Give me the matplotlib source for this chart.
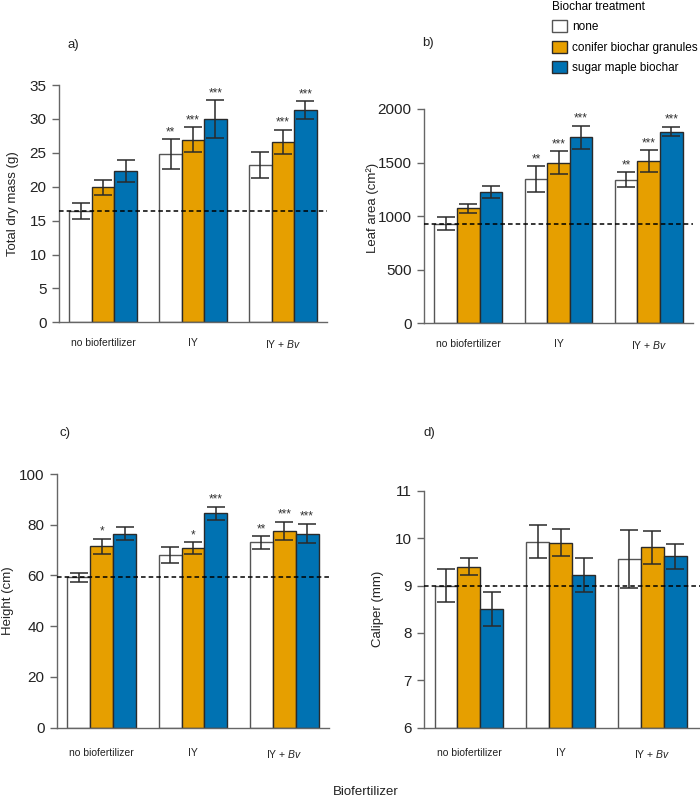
import matplotlib

matplotlib.use("Agg")
import matplotlib.pyplot as plt
import numpy as np
from matplotlib.patches import Patch

plt.rcParams["font.family"] = ["Liberation Sans", "DejaVu Sans"]
plt.rcParams["mathtext.fontset"] = "custom"
plt.rcParams["mathtext.rm"] = "Liberation Sans"
plt.rcParams["mathtext.it"] = "Liberation Sans:italic"

# ---------------------------------------------------------------------------
# Data (means and error half-widths)
# ---------------------------------------------------------------------------
GROUPS = ["no biofertilizer", "IY", "IY + $\\mathit{Bv}$"]
TREATMENTS = ["none", "conifer biochar granules", "sugar maple biochar"]

# a) total dry mass (g)
mass_none = [16.4, 24.8, 23.2]
mass_conifer = [19.9, 26.9, 26.6]
mass_maple = [22.3, 30.0, 31.3]
mass_err_none = [1.2, 2.2, 1.85]
mass_err_conifer = [1.15, 1.85, 1.75]
mass_err_maple = [1.65, 2.75, 1.3]
mass_stars = [["", "**", ""], ["", "***", "***"], ["", "***", "***"]]

# b) leaf area (cm2)
leaf_none = [930, 1345, 1340]
leaf_conifer = [1075, 1500, 1515]
leaf_maple = [1225, 1735, 1790]
leaf_err_none = [60, 120, 68]
leaf_err_conifer = [43, 105, 100]
leaf_err_maple = [55, 108, 45]
leaf_stars = [["", "**", "**"], ["", "***", "***"], ["", "***", "***"]]

# c) height (cm)
height_none = [59.2, 68.0, 73.0]
height_conifer = [71.5, 70.8, 77.5]
height_maple = [76.5, 84.5, 76.5]
height_err_none = [1.8, 3.2, 2.4]
height_err_conifer = [3.0, 2.2, 3.7]
height_err_maple = [2.5, 2.5, 3.9]
height_stars = [["", "", "**"], ["*", "*", "***"], ["", "***", "***"]]

# d) caliper (mm)
cal_none = [9.0, 9.93, 9.56]
cal_conifer = [9.4, 9.91, 9.81]
cal_maple = [8.5, 9.22, 9.62]
cal_err_none = [0.35, 0.35, 0.62]
cal_err_conifer = [0.18, 0.29, 0.35]
cal_err_maple = [0.36, 0.36, 0.27]
cal_stars = [["", "", ""], ["", "", ""], ["", "", ""]]

COLORS = ["#FFFFFF", "#E69F00", "#0072B2"]
EDGES = ["#555555", "#2a2a2a", "#2a2a2a"]
AXIS_GREY = "#666666"

W, H = 700, 797
BAR_W = 0.25


def px_axes(fig, left, right, top, bottom):
    return fig.add_axes([left / W, 1 - bottom / H, (right - left) / W, (bottom - top) / H])


def draw_panel(ax, means, errs, stars, ref, ylim, yticks, ylabel, label_xy,
               tick_pad, xlim=(-0.49, 2.49)):
    x = np.arange(len(GROUPS))
    for i, (m, e) in enumerate(zip(means, errs)):
        pos = x + (i - 1) * BAR_W
        ax.bar(pos, np.array(m) - ylim[0], bottom=ylim[0], width=BAR_W,
               color=COLORS[i], edgecolor=EDGES[i], linewidth=1.0, zorder=2)
        ax.errorbar(pos, m, yerr=e, fmt="none", ecolor="#2a2a2a",
                    elinewidth=1.1, capsize=6.5, capthick=1.1, zorder=3)
        for xp, top, s in zip(pos, np.array(m) + np.array(e), stars[i]):
            if s:
                ax.annotate(s, (xp, top), xytext=(0, 3), textcoords="offset points",
                            ha="center", va="baseline", fontsize=8.5, color="#333333")
    ax.axhline(ref, color="black", linestyle=(0, (3, 2)), linewidth=1.1, zorder=4)

    ax.set_xlim(*xlim)
    ax.set_ylim(*ylim)
    ax.set_yticks(yticks)
    ax.set_xticks(x)
    ax.set_xticklabels(GROUPS, fontsize=7.5, color="#222222")
    ax.tick_params(axis="x", length=0, pad=tick_pad)
    ax.tick_params(axis="y", length=5, width=1, color=AXIS_GREY, pad=4,
                   labelsize=11, labelcolor="#222222")

    ax.set_ylabel(ylabel, fontsize=9.5, color="#222222")
    ax.yaxis.set_label_coords(*label_xy)

    for side in ("top", "right"):
        ax.spines[side].set_visible(False)
    for side in ("left", "bottom"):
        ax.spines[side].set_color(AXIS_GREY)
        ax.spines[side].set_linewidth(1.0)
    ax.patch.set_alpha(0)


fig = plt.figure(figsize=(W / 100, H / 100), dpi=100)

ax_a = px_axes(fig, 59, 327, 85, 322.3)
draw_panel(ax_a, [mass_none, mass_conifer, mass_maple],
           [mass_err_none, mass_err_conifer, mass_err_maple], mass_stars,
           16.4, (0, 35), np.arange(0, 36, 5), "Total dry mass (g)",
           (-0.149, 0.5), 11)

ax_b = px_axes(fig, 424, 693, 109, 323.3)
draw_panel(ax_b, [leaf_none, leaf_conifer, leaf_maple],
           [leaf_err_none, leaf_err_conifer, leaf_err_maple], leaf_stars,
           930, (0, 2000), np.arange(0, 2001, 500), "Leaf area (cm²)",
           (-0.167, 0.54), 11)

ax_c = px_axes(fig, 57, 329, 474, 727.5)
draw_panel(ax_c, [height_none, height_conifer, height_maple],
           [height_err_none, height_err_conifer, height_err_maple], height_stars,
           59.2, (0, 100), np.arange(0, 101, 20), "Height (cm)",
           (-0.158, 0.5), 14.5)

ax_d = px_axes(fig, 424, 700, 491, 727.6)
draw_panel(ax_d, [cal_none, cal_conifer, cal_maple],
           [cal_err_none, cal_err_conifer, cal_err_maple], cal_stars,
           9.0, (6, 11), np.arange(6, 12, 1), "Caliper (mm)",
           (-0.145, 0.5), 14.5, xlim=(-0.49, 2.52))

# panel letters
for txt, xp, yp in [("a)", 68, 45), ("b)", 422, 43), ("c)", 60, 433), ("d)", 423, 433)]:
    fig.text(xp / W, 1 - yp / H, txt, fontsize=9.5, ha="left", va="center",
             color="#222222")

fig.text(366 / W, 1 - 792 / H, "Biofertilizer", fontsize=9.5, ha="center",
         va="center", color="#222222")

handles = [Patch(facecolor=c, edgecolor=e, linewidth=1.0) for c, e in zip(COLORS, EDGES)]
fig.legend(handles, TREATMENTS, title="Biochar treatment", loc="upper left",
           bbox_to_anchor=(552 / W, 1 - 1 / H), frameon=False, fontsize=8.5,
           title_fontsize=8.5, alignment="left", borderpad=0, borderaxespad=0,
           handlelength=1.25, handleheight=1.2, handletextpad=0.45,
           labelspacing=0.62)

fig.savefig("out.png", dpi=100)
